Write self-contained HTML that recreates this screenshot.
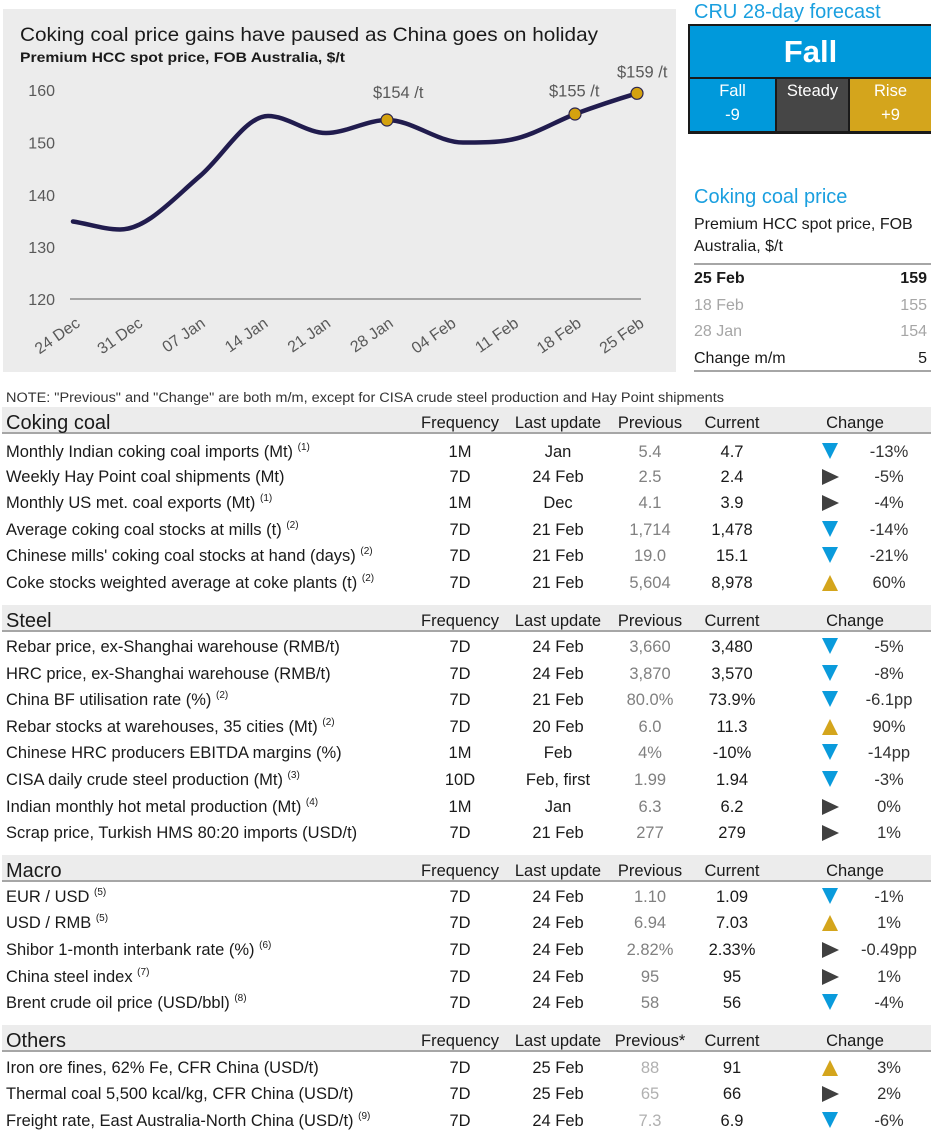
<!DOCTYPE html>
<html><head><meta charset="utf-8">
<style>
*{box-sizing:content-box}
body{margin:0;width:931px;height:1138px;position:relative;background:#fff;font-family:"Liberation Sans",Arial,sans-serif;overflow:hidden}
.a{position:absolute;white-space:nowrap}
.r{position:absolute;left:0;width:931px;height:26px;line-height:26px;font-size:16.5px;color:#1a1a1a;white-space:nowrap}
.r span{position:absolute;top:0}
.l{left:6px}
.f{left:420px;width:80px;text-align:center}
.u{left:503px;width:110px;text-align:center}
.p{left:610px;width:80px;text-align:center;color:#808080}
.p2{color:#b0b0b0}
.c{left:692px;width:80px;text-align:center}
.g{left:849px;width:80px;text-align:center;color:#333}
.r span.t{left:822px;width:0;height:0;top:5px}
.dn{border-left:8.5px solid transparent;border-right:8.5px solid transparent;border-top:16px solid #0a9bdc}
.rt{border-top:8.5px solid transparent;border-bottom:8.5px solid transparent;border-left:17px solid #404040}
.up{border-left:8.5px solid transparent;border-right:8.5px solid transparent;border-bottom:16px solid #d4a51c}
.r span.dn{top:4px}
.r span.rt{top:4.5px}
sup{font-size:10px;line-height:0;vertical-align:7px}
.band{position:absolute;left:2px;width:929px;height:25px;background:#ececec;border-bottom:2px solid #a6a6a6}
.hd{position:absolute;left:0;width:931px;height:26px;line-height:26px;font-size:16.5px;color:#1a1a1a;white-space:nowrap}
.hd span{position:absolute;top:0}
.hd span.s{left:6px;font-size:20px}
</style></head><body>

<svg class="a" style="left:0;top:0" width="680" height="380" viewBox="0 0 680 380">
<rect x="3" y="9" width="673" height="363" fill="#ececec"/>
<text x="20" y="41" font-size="19.5" fill="#1a1a1a" font-family="Liberation Sans, Arial, sans-serif" textLength="578" lengthAdjust="spacingAndGlyphs">Coking coal price gains have paused as China goes on holiday</text>
<text x="20" y="62" font-size="14" font-weight="bold" fill="#1a1a1a" font-family="Liberation Sans, Arial, sans-serif" textLength="325" lengthAdjust="spacingAndGlyphs">Premium HCC spot price, FOB Australia, $/t</text>
<g font-size="16" fill="#595959" font-family="Liberation Sans, Arial, sans-serif" text-anchor="end">
<text x="55" y="96">160</text>
<text x="55" y="148.5">150</text>
<text x="55" y="201">140</text>
<text x="55" y="253">130</text>
<text x="55" y="305">120</text>
</g>
<line x1="70" y1="299" x2="641" y2="299" stroke="#8c8c8c" stroke-width="1.5"/>
<g font-size="16" fill="#595959" font-family="Liberation Sans, Arial, sans-serif" text-anchor="end">
<text transform="translate(81,325.5) rotate(-35)">24 Dec</text>
<text transform="translate(143.7,325.5) rotate(-35)">31 Dec</text>
<text transform="translate(206.3,325.5) rotate(-35)">07 Jan</text>
<text transform="translate(269,325.5) rotate(-35)">14 Jan</text>
<text transform="translate(331.7,325.5) rotate(-35)">21 Jan</text>
<text transform="translate(394.3,325.5) rotate(-35)">28 Jan</text>
<text transform="translate(457,325.5) rotate(-35)">04 Feb</text>
<text transform="translate(519.7,325.5) rotate(-35)">11 Feb</text>
<text transform="translate(582.3,325.5) rotate(-35)">18 Feb</text>
<text transform="translate(645,325.5) rotate(-35)">25 Feb</text>
</g>
<path d="M73,221.5 C88.7,223.9 104.3,229.5 120,229.5 C146.7,229.5 173.3,198.7 200,176 C222.7,156.7 245.3,116 268,116 C287.3,116 306.7,133 326,133 C346.3,133 366.7,120 387,120 C412.3,120 437.7,142.5 463,142.5 C479.3,142.5 495.7,142.8 512,139.5 C533,135.3 554,122.4 575,114 C595.7,106.4 616.3,99.5 637,93.3" fill="none" stroke="#211c4e" stroke-width="4.5" stroke-linecap="round"/>
<g fill="#d4a20f" stroke="#2a2450" stroke-width="1.2">
<circle cx="387" cy="120" r="6"/>
<circle cx="575" cy="114" r="6"/>
<circle cx="637" cy="93.3" r="6"/>
</g>
<g font-size="16.5" fill="#595959" font-family="Liberation Sans, Arial, sans-serif">
<text x="373" y="98">$154 /t</text>
<text x="549" y="96.5">$155 /t</text>
<text x="617" y="77.5">$159 /t</text>
</g>
</svg>

<!-- forecast -->
<div class="a" style="left:694px;top:0;font-size:20px;line-height:24px;color:#1a9fdf">CRU 28-day forecast</div>
<div class="a" style="left:688px;top:24px;width:243px;height:110px;background:#1a1a1a"></div>
<div class="a" style="left:690px;top:26px;width:241px;height:51px;background:#0099db;color:#fff;font-weight:bold;font-size:31px;line-height:51px;text-align:center">Fall</div>
<div class="a" style="left:690px;top:79px;width:85px;height:52px;background:#0099db;color:#fff;font-size:16.5px;text-align:center;line-height:24px">Fall<br>-9</div>
<div class="a" style="left:777px;top:79px;width:71px;height:52px;background:#464646;color:#fff;font-size:16.5px;text-align:center;line-height:24px">Steady</div>
<div class="a" style="left:850px;top:79px;width:81px;height:52px;background:#d4a51c;color:#fff;font-size:16.5px;text-align:center;line-height:24px">Rise<br>+9</div>

<div class="a" style="left:694px;top:185px;font-size:20px;line-height:24px;color:#1a9fdf">Coking coal price</div>
<div class="a" style="left:694px;top:214px;font-size:16px;line-height:22px;color:#1a1a1a">Premium HCC spot price, FOB<br>Australia, $/t</div>
<div class="a" style="left:694px;top:263px;width:237px;height:2px;background:#a6a6a6"></div>
<div class="a" style="left:694px;top:266px;width:233px;font-size:16px;line-height:26.5px;color:#1a1a1a">
<div style="font-weight:bold;position:relative">25 Feb<span style="position:absolute;right:0">159</span></div>
<div style="color:#a6a6a6;position:relative">18 Feb<span style="position:absolute;right:0">155</span></div>
<div style="color:#a6a6a6;position:relative">28 Jan<span style="position:absolute;right:0">154</span></div>
<div style="position:relative">Change m/m<span style="position:absolute;right:0">5</span></div>
</div>
<div class="a" style="left:694px;top:370px;width:237px;height:2px;background:#a6a6a6"></div>

<!-- note -->
<svg class="a" style="left:0;top:386px" width="931" height="22" viewBox="0 0 931 22">
<text x="6" y="16" font-size="13.5" fill="#333" font-family="Liberation Sans, Arial, sans-serif" textLength="718" lengthAdjust="spacingAndGlyphs">NOTE: "Previous" and "Change" are both m/m, except for CISA crude steel production and Hay Point shipments</text>
</svg>

<!-- Coking coal -->
<div class="band" style="top:407px"></div>
<div class="hd" style="top:409.5px"><span class="s">Coking coal</span><span class="f">Frequency</span><span class="u">Last update</span><span class="p" style="color:#1a1a1a">Previous</span><span class="c">Current</span><span style="left:815px;width:80px;text-align:center">Change</span></div>
<div class="r" style="top:439px"><span class="l">Monthly Indian coking coal imports (Mt) <sup>(1)</sup></span><span class="f">1M</span><span class="u">Jan</span><span class="p">5.4</span><span class="c">4.7</span><span class="t dn"></span><span class="g">-13%</span></div>
<div class="r" style="top:464px"><span class="l">Weekly Hay Point coal shipments (Mt)</span><span class="f">7D</span><span class="u">24 Feb</span><span class="p">2.5</span><span class="c">2.4</span><span class="t rt"></span><span class="g">-5%</span></div>
<div class="r" style="top:490px"><span class="l">Monthly US met. coal exports (Mt) <sup>(1)</sup></span><span class="f">1M</span><span class="u">Dec</span><span class="p">4.1</span><span class="c">3.9</span><span class="t rt"></span><span class="g">-4%</span></div>
<div class="r" style="top:517px"><span class="l">Average coking coal stocks at mills (t) <sup>(2)</sup></span><span class="f">7D</span><span class="u">21 Feb</span><span class="p">1,714</span><span class="c">1,478</span><span class="t dn"></span><span class="g">-14%</span></div>
<div class="r" style="top:543px"><span class="l">Chinese mills' coking coal stocks at hand (days) <sup>(2)</sup></span><span class="f">7D</span><span class="u">21 Feb</span><span class="p">19.0</span><span class="c">15.1</span><span class="t dn"></span><span class="g">-21%</span></div>
<div class="r" style="top:570px"><span class="l">Coke stocks weighted average at coke plants (t) <sup>(2)</sup></span><span class="f">7D</span><span class="u">21 Feb</span><span class="p">5,604</span><span class="c">8,978</span><span class="t up"></span><span class="g">60%</span></div>

<!-- Steel -->
<div class="band" style="top:605px"></div>
<div class="hd" style="top:607.5px"><span class="s">Steel</span><span class="f">Frequency</span><span class="u">Last update</span><span class="p" style="color:#1a1a1a">Previous</span><span class="c">Current</span><span style="left:815px;width:80px;text-align:center">Change</span></div>
<div class="r" style="top:634px"><span class="l">Rebar price, ex-Shanghai warehouse (RMB/t)</span><span class="f">7D</span><span class="u">24 Feb</span><span class="p">3,660</span><span class="c">3,480</span><span class="t dn"></span><span class="g">-5%</span></div>
<div class="r" style="top:661px"><span class="l">HRC price, ex-Shanghai warehouse (RMB/t)</span><span class="f">7D</span><span class="u">24 Feb</span><span class="p">3,870</span><span class="c">3,570</span><span class="t dn"></span><span class="g">-8%</span></div>
<div class="r" style="top:687px"><span class="l">China BF utilisation rate (%) <sup>(2)</sup></span><span class="f">7D</span><span class="u">21 Feb</span><span class="p">80.0%</span><span class="c">73.9%</span><span class="t dn"></span><span class="g">-6.1pp</span></div>
<div class="r" style="top:714px"><span class="l">Rebar stocks at warehouses, 35 cities (Mt) <sup>(2)</sup></span><span class="f">7D</span><span class="u">20 Feb</span><span class="p">6.0</span><span class="c">11.3</span><span class="t up"></span><span class="g">90%</span></div>
<div class="r" style="top:740px"><span class="l">Chinese HRC producers EBITDA margins (%)</span><span class="f">1M</span><span class="u">Feb</span><span class="p">4%</span><span class="c">-10%</span><span class="t dn"></span><span class="g">-14pp</span></div>
<div class="r" style="top:767px"><span class="l">CISA daily crude steel production (Mt) <sup>(3)</sup></span><span class="f">10D</span><span class="u">Feb, first</span><span class="p">1.99</span><span class="c">1.94</span><span class="t dn"></span><span class="g">-3%</span></div>
<div class="r" style="top:794px"><span class="l">Indian monthly hot metal production (Mt) <sup>(4)</sup></span><span class="f">1M</span><span class="u">Jan</span><span class="p">6.3</span><span class="c">6.2</span><span class="t rt"></span><span class="g">0%</span></div>
<div class="r" style="top:820px"><span class="l">Scrap price, Turkish HMS 80:20 imports (USD/t)</span><span class="f">7D</span><span class="u">21 Feb</span><span class="p">277</span><span class="c">279</span><span class="t rt"></span><span class="g">1%</span></div>

<!-- Macro -->
<div class="band" style="top:855px"></div>
<div class="hd" style="top:857.5px"><span class="s">Macro</span><span class="f">Frequency</span><span class="u">Last update</span><span class="p" style="color:#1a1a1a">Previous</span><span class="c">Current</span><span style="left:815px;width:80px;text-align:center">Change</span></div>
<div class="r" style="top:884px"><span class="l">EUR / USD <sup>(5)</sup></span><span class="f">7D</span><span class="u">24 Feb</span><span class="p">1.10</span><span class="c">1.09</span><span class="t dn"></span><span class="g">-1%</span></div>
<div class="r" style="top:910px"><span class="l">USD / RMB <sup>(5)</sup></span><span class="f">7D</span><span class="u">24 Feb</span><span class="p">6.94</span><span class="c">7.03</span><span class="t up"></span><span class="g">1%</span></div>
<div class="r" style="top:937px"><span class="l">Shibor 1-month interbank rate (%) <sup>(6)</sup></span><span class="f">7D</span><span class="u">24 Feb</span><span class="p">2.82%</span><span class="c">2.33%</span><span class="t rt"></span><span class="g">-0.49pp</span></div>
<div class="r" style="top:964px"><span class="l">China steel index <sup>(7)</sup></span><span class="f">7D</span><span class="u">24 Feb</span><span class="p">95</span><span class="c">95</span><span class="t rt"></span><span class="g">1%</span></div>
<div class="r" style="top:990px"><span class="l">Brent crude oil price (USD/bbl) <sup>(8)</sup></span><span class="f">7D</span><span class="u">24 Feb</span><span class="p">58</span><span class="c">56</span><span class="t dn"></span><span class="g">-4%</span></div>

<!-- Others -->
<div class="band" style="top:1025px"></div>
<div class="hd" style="top:1027.5px"><span class="s">Others</span><span class="f">Frequency</span><span class="u">Last update</span><span class="p" style="color:#1a1a1a">Previous*</span><span class="c">Current</span><span style="left:815px;width:80px;text-align:center">Change</span></div>
<div class="r" style="top:1055px"><span class="l">Iron ore fines, 62% Fe, CFR China (USD/t)</span><span class="f">7D</span><span class="u">25 Feb</span><span class="p p2">88</span><span class="c">91</span><span class="t up"></span><span class="g">3%</span></div>
<div class="r" style="top:1081px"><span class="l">Thermal coal 5,500 kcal/kg, CFR China (USD/t)</span><span class="f">7D</span><span class="u">25 Feb</span><span class="p p2">65</span><span class="c">66</span><span class="t rt"></span><span class="g">2%</span></div>
<div class="r" style="top:1108px"><span class="l">Freight rate, East Australia-North China (USD/t) <sup>(9)</sup></span><span class="f">7D</span><span class="u">24 Feb</span><span class="p p2">7.3</span><span class="c">6.9</span><span class="t dn"></span><span class="g">-6%</span></div>

</body></html>
